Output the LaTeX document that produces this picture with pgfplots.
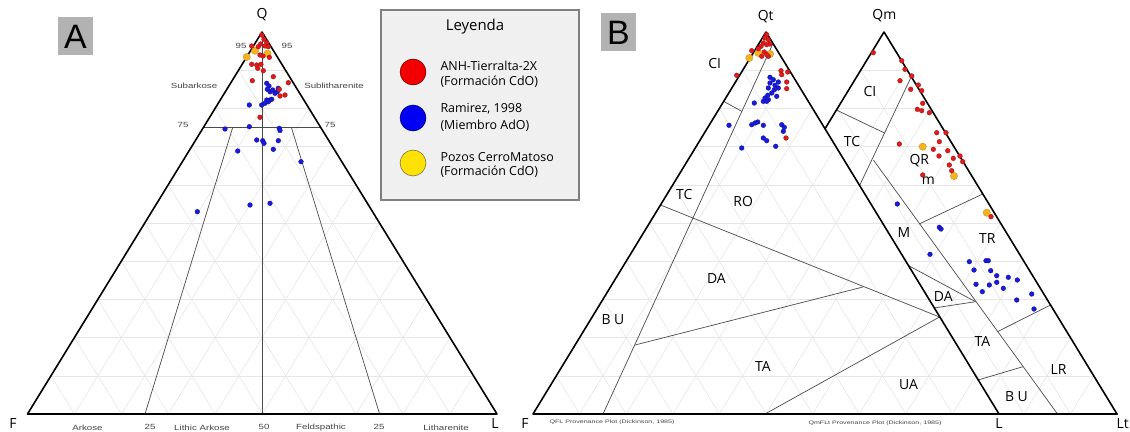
\documentclass[border=0pt]{standalone}
\usepackage{pgfplots}
\pgfplotsset{compat=1.18}
\usepackage{graphicx}
\usepackage{fontspec}
\setmainfont{Open Sans}
\newfontfamily\arial{Liberation Sans}
\definecolor{ptred}{HTML}{E01B1B}
\definecolor{ptblue}{HTML}{1A1ADC}
\definecolor{ptgold}{HTML}{F5B41E}
\definecolor{gridc}{HTML}{E6E6E6}
\definecolor{linec}{HTML}{4A4A4A}
\definecolor{smallc}{HTML}{444444}
\tikzset{edge/.style={black, line width=1.6pt, line join=round, line cap=round},
  field/.style={linec, line width=0.7pt},
  gl/.style={gridc, line width=0.6pt}}
\newcommand{\sm}[1]{\scalebox{1.3}[1]{\arial\fontsize{7.5}{8}\selectfont #1}}
\newcommand{\lab}{\fontsize{14}{16}\selectfont}
\newcommand{\tgrid}[6]{%
  \pgfplotsinvokeforeach{1,...,9}{%
    \draw[gl] ({#3+(#1-#3)*##1/10},{#4+(#2-#4)*##1/10}) -- ({#5+(#1-#5)*##1/10},{#6+(#2-#6)*##1/10});
    \draw[gl] ({#3+(#5-#3)*##1/10},{#4+(#6-#4)*##1/10}) -- ({#1+(#5-#1)*##1/10},{#2+(#6-#2)*##1/10});
    \draw[gl] ({#5+(#3-#5)*##1/10},{#6+(#4-#6)*##1/10}) -- ({#1+(#3-#1)*##1/10},{#2+(#4-#2)*##1/10});
  }}
\begin{document}
\begin{tikzpicture}
\begin{axis}[hide axis, scale only axis, width=1130bp, height=432bp,
  xmin=0, xmax=1130, ymin=0, ymax=432, y dir=reverse, clip=false]
\fill[white] (0,0) rectangle (1130,432);

% ================= Panel A =================
\tgrid{262}{32}{27.5}{414}{497}{414}
\addplot[field] coordinates {(262,32) (262,414)};
\addplot[field] coordinates {(203.4,127.5) (320.75,127.5)};
\addplot[field] coordinates {(145,414) (232.7,127.5)};
\addplot[field] coordinates {(379.6,414) (291.4,127.5)};
\addplot[edge] coordinates {(262,32) (27.5,414) (497,414) (262,32)};

\node[text=smallc] at (194,85.5) {\sm{Subarkose}};
\node[text=smallc] at (334,85.5) {\sm{Sublitharenite}};
\node[text=smallc] at (183,125) {\sm{75}};
\node[text=smallc] at (330,125) {\sm{75}};
\node[text=smallc] at (241,46) {\sm{95}};
\node[text=smallc] at (287,46) {\sm{95}};
\node[text=smallc] at (87.5,428) {\sm{Arkose}};
\node[text=smallc] at (150,427) {\sm{25}};
\node[text=smallc] at (202,428) {\sm{Lithic Arkose}};
\node[text=smallc] at (264,427) {\sm{50}};
\node[text=smallc] at (321,428) {\sm{Feldspathic}};
\node[text=smallc] at (379,427) {\sm{25}};
\node[text=smallc] at (446,428) {\sm{Litharenite}};
\node at (262,15) {\lab Q};
\node at (13,424) {\lab F};
\node at (495,424) {\lab L};

% A label box
\fill[black!30] (58,17) rectangle (93,55);
\node at (75.5,36.5) {\arial\fontsize{34}{36}\selectfont A};

% ================= Legend =================
\draw[black!50, fill=black!6, line width=1.2pt] (381,10) rectangle (579,200);
\node at (475,27) {\fontsize{15}{17}\selectfont Leyenda};
\addplot[only marks, mark=*, mark size=13pt, mark options={fill=red!95!black, draw=red!45!black, line width=0.6pt}] coordinates {(413,72)};
\addplot[only marks, mark=*, mark size=13pt, mark options={fill=blue!95!black, draw=blue!45!black, line width=0.6pt}] coordinates {(413,118)};
\addplot[only marks, mark=*, mark size=13pt, mark options={fill=yellow!85!orange, draw=yellow!40!black, line width=0.6pt}] coordinates {(413,163)};
\node[anchor=west] at (437,65.5) {\fontsize{12.5}{14}\selectfont ANH-Tierralta-2X};
\node[anchor=west] at (437,82) {\fontsize{12.5}{14}\selectfont (Formación CdO)};
\node[anchor=west] at (437,109) {\fontsize{12.5}{14}\selectfont Ramirez, 1998};
\node[anchor=west] at (437,126) {\fontsize{12.5}{14}\selectfont (Miembro AdO)};
\node[anchor=west] at (437,157) {\fontsize{12.5}{14}\selectfont Pozos CerroMatoso};
\node[anchor=west] at (437,172) {\fontsize{12.5}{14}\selectfont (Formación CdO)};

% ================= Panel B: right triangle (QmFLt) =================
\tgrid{884}{32}{651}{414}{1117}{414}
\addplot[field] coordinates {(911.3,76.7) (751,414)};
\addplot[field] coordinates {(836.4,110) (884.6,133)};
\addplot[field] coordinates {(873.4,160) (1057.5,414)};
\addplot[field] coordinates {(919,224) (982.8,194)};
\addplot[field] coordinates {(900,261) (975.5,301.7)};
\addplot[field] coordinates {(930,308.6) (975.5,301.7)};
\addplot[field] coordinates {(997.4,331.7) (1050.5,305)};
\addplot[field] coordinates {(970,382.4) (1022.9,366.7)};
\addplot[edge] coordinates {(884,32) (651,414) (1117,414) (884,32)};

% ================= Panel B: left triangle (QtFL) =================
\fill[white] (766,32) -- (533,414) -- (999,414) -- cycle;
\tgrid{766}{32}{533}{414}{999}{414}
\addplot[field] coordinates {(773,43.5) (603,414)};
\addplot[field] coordinates {(724,101.5) (742,111.5)};
\addplot[field] coordinates {(660.5,205) (939.5,317)};
\addplot[field] coordinates {(635,345) (863,287)};
\addplot[field] coordinates {(765,414) (939.5,317)};
\addplot[edge] coordinates {(766,32) (533,414) (999,414) (766,32)};
\addplot[edge] coordinates {(999,414) (1117,414)};

% labels B
\node at (714.6,63.3) {\lab CI};
\node at (684.3,195) {\lab TC};
\node at (743.2,201.7) {\lab RO};
\node at (716.4,278.3) {\lab DA};
\node at (612.9,320) {\lab B U};
\node at (762.9,366.7) {\lab TA};
\node at (908.6,385) {\lab UA};
\node at (870,91.7) {\lab CI};
\node at (852,141.7) {\lab TC};
\node at (919.3,160.7) {\lab QR};
\node at (928.3,180.7) {\lab m};
\node at (904,232.7) {\lab M};
\node at (987.3,238.3) {\lab TR};
\node at (943.3,296.7) {\lab DA};
\node at (982.5,341.7) {\lab TA};
\node at (1016.4,396.7) {\lab B U};
\node at (1058.6,370) {\lab LR};
\node at (765.7,17) {\lab Qt};
\node at (884.3,16) {\lab Qm};
\node at (525,424) {\lab F};
\node at (999,423.5) {\lab L};
\node[anchor=west] at (1113,423.5) {\lab Lt};
\node[text=smallc] at (612,422) {\resizebox{125bp}{3.6bp}{\arial QFL Provenance Plot (Dickinson, 1985)}};
\node[text=smallc] at (875,423) {\resizebox{133bp}{3.6bp}{\arial QmFLt Provenance Plot (Dickinson, 1985)}};

\fill[black!30] (601,13) rectangle (636,51);
\node at (618.5,32.5) {\arial\fontsize{34}{36}\selectfont B};

% ================= Data =================
\pgfplotsset{bl/.style={only marks, mark=*, mark size=2.4pt, mark options={fill=ptblue, draw=ptblue!70!black, line width=0.3pt}},
  rd/.style={only marks, mark=*, mark size=2.4pt, mark options={fill=ptred, draw=ptred!70!black, line width=0.3pt}},
  yl/.style={only marks, mark=*, mark size=3.7pt, mark options={fill=ptgold, draw=ptgold!80!black, line width=0.3pt}}}
% Panel A
\addplot[bl] coordinates {(266.7,83.3) (269,86) (267.3,89.3) (270,91.7) (272.7,90) (278.3,88.3) (275,93.3) (277.3,91.7) (266.7,100) (270,100) (268.3,101.7) (271.7,99.3) (265,103.3) (261.7,105) (249.3,105) (225,129) (249.3,126.7) (279.3,128.3) (280,130.5) (256.7,140) (262.7,140.7) (264,143.3) (278.3,140.7) (237.7,151) (273.3,149.3) (301,161.7) (250,205) (270,203.3) (197.3,211.7)};
\addplot[yl] coordinates {(246.7,57) (255,50.7) (267.5,53.5)};
\addplot[rd] coordinates {(261.7,35) (264,39.3) (266.7,42.7) (260.7,44) (265,46) (258.3,46.7) (268.3,46.7) (251.7,46) (260,55) (269.3,57.3) (263,56) (251.7,64.3) (256.7,65) (261,64.3) (257.7,68.3) (263.3,70.7) (252.3,80.7) (273.3,76.7) (288.3,82.7) (279.3,89.3) (285,95) (280,96) (260,117.3)};
% Panel B left
\addplot[bl] coordinates {(770,77.3) (773.3,79.7) (778.3,82) (770,83) (775,85.3) (768.3,88) (774.3,89.7) (778.3,88) (771.7,93) (767.7,95.3) (776.7,96.3) (765,98) (768.3,99.7) (766.7,101.3) (763.3,101.3) (754.3,103) (729,125.3) (751.7,124.7) (755,123) (757.7,122) (763.3,125.3) (781.7,124.7) (784.3,127.3) (783.3,131.3) (763.3,138) (766.7,140.7) (741.7,148) (775.7,146.3)};
\addplot[yl] coordinates {(749.3,58) (758.3,53) (770,54)};
\addplot[rd] coordinates {(766.7,34.7) (765,38) (768.3,39.7) (763.3,43) (770,44) (766.7,44.7) (761,46.3) (758.3,48.7) (764.3,52) (768.3,56.3) (766.7,54.7) (761.7,56.3) (751.7,50.7) (736.7,75.3) (781,70.7) (787.7,72) (781.7,74.7) (786.7,82) (786.7,88.7) (786,138)};
% Panel B right
\addplot[bl] coordinates {(897.3,204) (939.3,227.3) (941,229) (930,254.3) (969.3,261.7) (986,260.7) (988.3,260.7) (974,270) (990.7,270.7) (996.7,275.7) (1008.3,277.3) (1017.3,280) (976,284.3) (989.3,285) (996.7,282.3) (1003.3,288.3) (982.3,291.7) (1016.7,300) (1031.7,294) (1034,309)};
\addplot[yl] coordinates {(922.7,146.7) (954,176) (986.7,212.7)};
\addplot[rd] coordinates {(873.3,52.7) (901.7,60.7) (905,69.3) (911.7,76) (900,80.7) (910.7,89.3) (918.3,85) (921.7,90.7) (922.7,103.3) (917.3,109.3) (921.7,110.7) (929.3,112.7) (936.7,132.7) (946,132.7) (939.3,141.7) (899.3,144) (933.3,149.3) (947.7,150.7) (939,156) (953.3,158.3) (960,156) (962.7,161.7) (949.3,165) (951.7,170.7) (922.7,175) (991,216.7)};
\end{axis}
\pgfresetboundingbox
\path[use as bounding box] (current axis.south west) rectangle (current axis.north east);
\end{tikzpicture}
\end{document}
